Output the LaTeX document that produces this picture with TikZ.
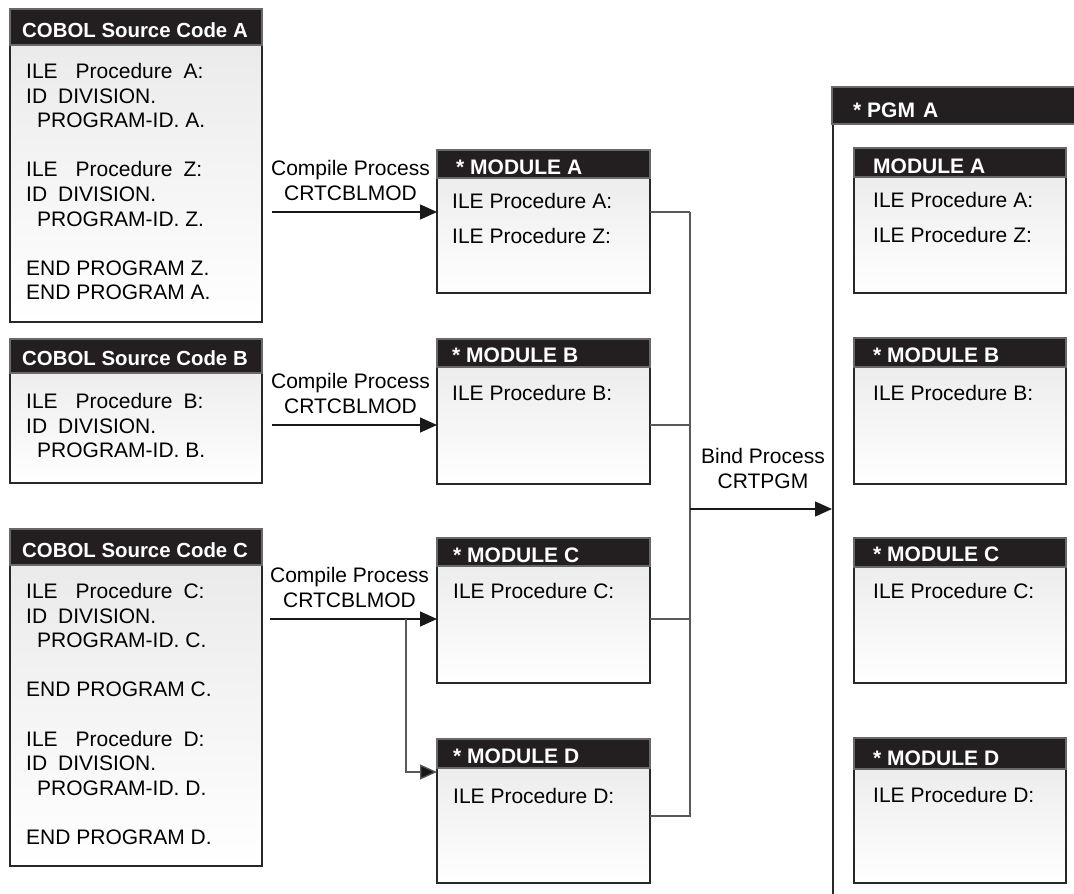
\documentclass[tikz,border=0pt]{standalone}
\usepackage{fontspec}
\setmainfont{Liberation Sans}
\usetikzlibrary{arrows.meta}

\definecolor{headfill}{RGB}{35,31,32}
\definecolor{headline}{RGB}{105,105,105}
\definecolor{boxline}{RGB}{40,40,40}
\newcommand{\srcfont}{\fontsize{21}{24.6}\selectfont}
\newcommand{\modfont}{\fontsize{21}{35}\selectfont}
\newcommand{\hdfont}{\fontsize{21}{25}\selectfont\bfseries}
\newcommand{\srchdfont}{\fontsize{20.4}{25}\selectfont\bfseries}

\tikzset{
  box/.style={draw=boxline, line width=1.7pt, top color=black!9, bottom color=white,
    anchor=north west, inner sep=0pt, outer sep=0pt},
  head/.style={draw=headline, line width=1.6pt, fill=headfill,
    anchor=north west, inner sep=0pt, outer sep=0pt},
  headtext/.style={text=white, font=\hdfont, anchor=base west, inner sep=0pt},
  srctext/.style={font=\srcfont, align=left, anchor=north west, inner sep=0pt},
  modtext/.style={font=\modfont, align=left, anchor=north west, inner sep=0pt},
  proc/.style={font=\srcfont, align=center, inner sep=0pt, above=11pt},
  flow/.style={draw=black!90, line width=1.3pt, -{Triangle[length=17pt,width=15pt,fill=black!90]}},
  link/.style={draw=black!65, line width=1.3pt}
}

\begin{document}
\begin{tikzpicture}[x=1pt,y=-1pt]
\useasboundingbox (0,0) rectangle (1074,894);
\clip (0,0) rectangle (1074,894);

% COBOL sources
\node[box, minimum width=252pt, minimum height=313pt] (srcA) at (10,9) {};
\node[head, minimum width=252pt, minimum height=36pt] (srcAh) at (10,9) {};
\node[headtext, font=\srchdfont] (srcAt) at (22,37) {COBOL Source Code A};
\node[srctext] (srcAb) at (26,63) {ILE\hspace{18pt}Procedure\hspace{11pt}A:\\
ID\hspace{11pt}DIVISION.\\
\hspace*{11pt}PROGRAM-ID. A.\\[24.6pt]
ILE\hspace{18pt}Procedure\hspace{11pt}Z:\\
ID\hspace{11pt}DIVISION.\\
\hspace*{11pt}PROGRAM-ID. Z.\\[24.6pt]
END PROGRAM Z.\\
END PROGRAM A.};

\node[box, minimum width=252pt, minimum height=144pt] (srcB) at (10,339) {};
\node[head, minimum width=252pt, minimum height=34pt] (srcBh) at (10,339) {};
\node[headtext, font=\srchdfont] (srcBt) at (22,365) {COBOL Source Code B};
\node[srctext] (srcBb) at (26,393) {ILE\hspace{18pt}Procedure\hspace{11pt}B:\\
ID\hspace{11pt}DIVISION.\\
\hspace*{11pt}PROGRAM-ID. B.};

\node[box, minimum width=252pt, minimum height=337pt] (srcC) at (10,529) {};
\node[head, minimum width=252pt, minimum height=36pt] (srcCh) at (10,529) {};
\node[headtext, font=\srchdfont] (srcCt) at (22,557) {COBOL Source Code C};
\node[srctext] (srcCb) at (26,583) {ILE\hspace{18pt}Procedure\hspace{11pt}C:\\
ID\hspace{11pt}DIVISION.\\
\hspace*{11pt}PROGRAM-ID. C.\\[24.6pt]
END PROGRAM C.\\[24.6pt]
ILE\hspace{18pt}Procedure\hspace{11pt}D:\\
ID\hspace{11pt}DIVISION.\\
\hspace*{11pt}PROGRAM-ID. D.\\[24.6pt]
END PROGRAM D.};

% modules
\node[box, minimum width=213pt, minimum height=143pt] (modA) at (437,150) {};
\node[head, minimum width=213pt, minimum height=28pt] (modAh) at (437,150) {};
\node[headtext] (modAt) at (456,174) {* MODULE A};
\node[modtext] (modAb) at (452,193) {ILE Procedure A:\\ILE Procedure Z:};

\node[box, minimum width=213pt, minimum height=145pt] (modB) at (437,339) {};
\node[head, minimum width=213pt, minimum height=28pt] (modBh) at (437,339) {};
\node[headtext] (modBt) at (452,362) {* MODULE B};
\node[modtext] (modBb) at (452,385) {ILE Procedure B:};

\node[box, minimum width=213pt, minimum height=145pt] (modC) at (437,538) {};
\node[head, minimum width=213pt, minimum height=28pt] (modCh) at (437,538) {};
\node[headtext] (modCt) at (453,562) {* MODULE C};
\node[modtext] (modCb) at (453,583) {ILE Procedure C:};

\node[box, minimum width=213pt, minimum height=144pt] (modD) at (437,739) {};
\node[head, minimum width=213pt, minimum height=29pt] (modDh) at (437,739) {};
\node[headtext] (modDt) at (453,763) {* MODULE D};
\node[modtext] (modDb) at (453,788) {ILE Procedure D:};

% program
\node[draw=boxline, line width=1.9pt, fill=white, anchor=north west,
  minimum width=400pt, minimum height=900pt] (pgm) at (832,87) {};
\node[head, minimum width=400pt, minimum height=37pt] (pgmh) at (832,87) {};
\node[headtext] (pgmt) at (853,117) {* PGM\hspace{8pt}A};

\node[box, minimum width=212pt, minimum height=145pt] (pmodA) at (854,148) {};
\node[head, minimum width=212pt, minimum height=29pt] (pmodAh) at (854,148) {};
\node[headtext] (pmodAt) at (873,173) {MODULE A};
\node[modtext] (pmodAb) at (873,192) {ILE Procedure A:\\ILE Procedure Z:};

\node[box, minimum width=212pt, minimum height=146pt] (pmodB) at (854,338) {};
\node[head, minimum width=212pt, minimum height=29pt] (pmodBh) at (854,338) {};
\node[headtext] (pmodBt) at (873,362) {* MODULE B};
\node[modtext] (pmodBb) at (873,385) {ILE Procedure B:};

\node[box, minimum width=212pt, minimum height=145pt] (pmodC) at (854,538) {};
\node[head, minimum width=212pt, minimum height=29pt] (pmodCh) at (854,538) {};
\node[headtext] (pmodCt) at (873,561) {* MODULE C};
\node[modtext] (pmodCb) at (873,583) {ILE Procedure C:};

\node[box, minimum width=212pt, minimum height=145pt] (pmodD) at (854,738) {};
\node[head, minimum width=212pt, minimum height=31pt] (pmodDh) at (854,738) {};
\node[headtext] (pmodDt) at (873,765) {* MODULE D};
\node[modtext] (pmodDb) at (873,787) {ILE Procedure D:};

% compile
\coordinate (cA) at (272,212);
\coordinate (cB) at (272,425);
\coordinate (cC) at (270,619);
\coordinate (split) at (406,619);
\draw[flow] (cA) -- node[proc, xshift=-4pt] (cmpA) {Compile Process\\CRTCBLMOD} (cA -| modA.west);
\draw[flow] (cB) -- node[proc, xshift=-4pt] (cmpB) {Compile Process\\CRTCBLMOD} (cB -| modB.west);
\draw[flow] (cC) -- node[proc, xshift=-4pt] (cmpC) {Compile Process\\CRTCBLMOD} (cC -| modC.west);
\draw[flow, draw=black!65] (split) |- (modD.west |- 0,772);

% bind
\coordinate (jA) at (690,212);
\coordinate (jB) at (690,425);
\coordinate (jC) at (690,619);
\coordinate (jD) at (690,816);
\coordinate (bind) at (690,509);
\draw[link] (modA.east |- jA) -- (jA);
\draw[link] (modB.east |- jB) -- (jB);
\draw[link] (modC.east |- jC) -- (jC);
\draw[link] (modD.east |- jD) -- (jD) -- (jA);
\draw[flow] (bind) -- node[proc, above=9pt, xshift=2pt] (bindl) {Bind Process\\CRTPGM} (bind -| pgm.west);
\end{tikzpicture}
\end{document}
